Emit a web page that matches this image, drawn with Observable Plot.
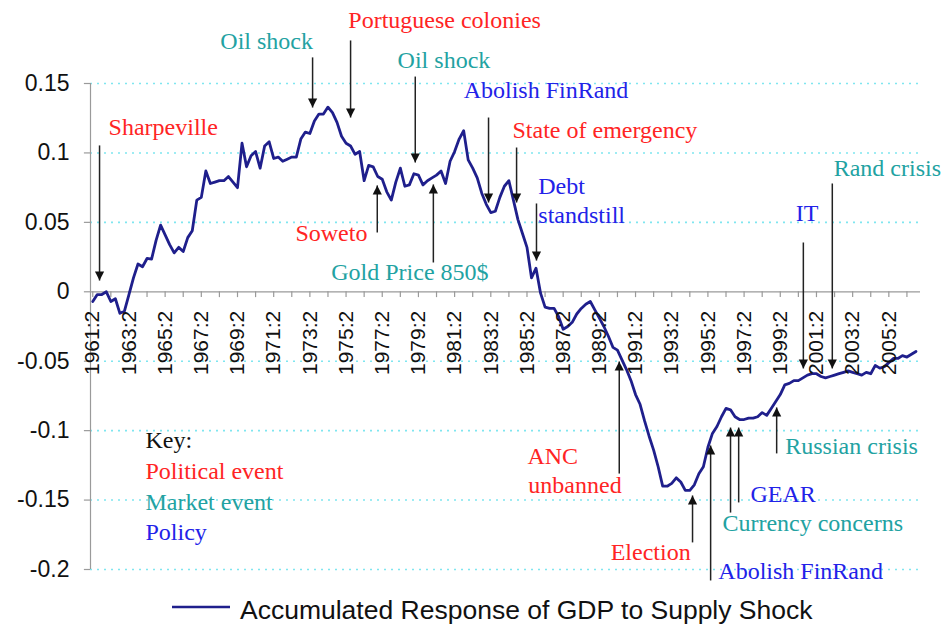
<!DOCTYPE html>
<html><head><meta charset="utf-8">
<script src="https://cdn.jsdelivr.net/npm/d3@7"></script>
<script src="https://cdn.jsdelivr.net/npm/@observablehq/plot@0.6"></script>
<style>
body{margin:0;background:#fff;}
#legend{position:relative;height:42px;width:942px;font-family:"Liberation Sans",Arial,sans-serif;font-size:26.5px;color:#111;}
#legend svg{position:absolute;left:172px;top:12px;}
#legend span{position:absolute;left:240px;top:5px;white-space:nowrap;}
</style></head><body><div id="chart"></div><div id="legend"></div>
<script>
// Quarterly series 1961:2 .. 2006:4
const seriesName = "Accumulated Response of GDP to Supply Shock";
const gdpResponse = [
 -0.007,-0.002,-0.002,0.000,-0.007,-0.005,-0.0155,-0.014,-0.002,0.010,
 0.020,0.018,0.024,0.0235,0.037,0.048,0.041,0.034,0.028,0.032,
 0.029,0.039,0.044,0.066,0.068,0.087,0.078,0.079,0.080,0.080,
 0.083,0.079,0.075,0.107,0.090,0.098,0.101,0.089,0.105,0.108,
 0.096,0.097,0.094,0.0955,0.097,0.097,0.110,0.115,0.114,0.123,
 0.128,0.128,0.133,0.129,0.122,0.112,0.107,0.105,0.099,0.101,
 0.080,0.091,0.090,0.083,0.081,0.072,0.066,0.079,0.089,0.076,
 0.077,0.085,0.084,0.077,0.080,0.082,0.084,0.087,0.078,0.094,
 0.101,0.110,0.116,0.095,0.089,0.082,0.071,0.063,0.057,0.058,
 0.068,0.076,0.080,0.066,0.052,0.042,0.032,0.010,0.017,-0.001,
 -0.011,-0.012,-0.012,-0.018,-0.027,-0.025,-0.022,-0.016,-0.012,-0.009,
 -0.007,-0.013,-0.019,-0.025,-0.032,-0.040,-0.042,-0.049,-0.056,-0.064,
 -0.074,-0.081,-0.093,-0.104,-0.114,-0.126,-0.140,-0.140,-0.138,-0.134,
 -0.137,-0.143,-0.143,-0.139,-0.131,-0.126,-0.112,-0.102,-0.097,-0.090,
 -0.084,-0.085,-0.090,-0.092,-0.092,-0.091,-0.091,-0.090,-0.087,-0.089,
 -0.084,-0.079,-0.074,-0.067,-0.066,-0.064,-0.064,-0.062,-0.060,-0.059,
 -0.059,-0.061,-0.062,-0.061,-0.060,-0.059,-0.058,-0.057,-0.058,-0.059,
 -0.060,-0.058,-0.059,-0.053,-0.055,-0.054,-0.051,-0.048,-0.048,-0.046,
 -0.047,-0.045,-0.043
];
const xTickLabels = ["1961:2","1963:2","1965:2","1967:2","1969:2","1971:2","1973:2","1975:2",
  "1977:2","1979:2","1981:2","1983:2","1985:2","1987:2","1989:2","1991:2","1993:2","1995:2",
  "1997:2","1999:2","2001:2","2003:2","2005:2"];
const yTicks = [0.15,0.1,0.05,0,-0.05,-0.1,-0.15,-0.2];
const yTickLabels = ["0.15","0.1","0.05","0","-0.05","-0.1","-0.15","-0.2"];

// Annotations: label, event type, quarter index, value
const annLabels = ["Sharpeville","Oil shock","Portuguese colonies","Oil shock","Abolish FinRand",
  "State of emergency","Debt","standstill","Soweto","Gold Price 850$","Rand crisis","IT",
  "ANC","unbanned","Election","Abolish FinRand","Currency concerns","GEAR","Russian crisis"];
const annTypes = ["Political","Market","Political","Market","Policy",
  "Political","Policy","Policy","Political","Market","Market","Policy",
  "Political","Political","Political","Policy","Market","Policy","Market"];
const annQuarter = [3.5,28.2,56.5,67.4,82.0,92.8,98.5,98.5,44.8,87.5,163.8,155.4,96.1,96.3,114.5,138.3,139.2,145.4,153.1];
const annValue = [0.1183,0.1803,0.1954,0.1666,0.145,0.1162,0.0758,0.0549,0.042,0.0139,0.089,0.0564,-0.1186,-0.1395,-0.1877,-0.2014,-0.1669,-0.146,-0.1114];
const annAlign = ["start","start","start","start","start","start","start","start","start","end","start","start","start","start","start","start","start","start","start"];

// Arrows: quarter index, tail value, tip value
const arrowQuarter = [1.5,48.6,57.0,71.3,87.5,93.7,98.1,62.9,75.3,157.1,163.5,116.4,132.6,136.6,141.0,142.8,151.2];
const arrowFrom = [0.1054,0.1688,0.181,0.155,0.1255,0.1039,0.0636,0.0427,0.0211,0.0355,0.078,-0.1309,-0.1805,-0.2079,-0.159,-0.1517,-0.1164];
const arrowTo = [0.0081,0.1327,0.1255,0.0931,0.0643,0.0643,0.0225,0.0766,0.0773,-0.0552,-0.0552,-0.0502,-0.1467,-0.1107,-0.0978,-0.0978,-0.0833];

const keyTitle = "Key:";
const keyLabels = ["Political event","Market event","Policy"];
const keyTypes = ["Political","Market","Policy"];

// ---- build ----
const typeColor = {Political:"#ff2424", Market:"#22a2a2", Policy:"#2222e8"};
const series = gdpResponse.map((v,i)=>({i, v}));
const anns = annLabels.map((t,k)=>({t, c: typeColor[annTypes[k]], x: annQuarter[k], y: annValue[k], a: annAlign[k]}));
const arrows = arrowQuarter.map((x,k)=>({x, y1: arrowFrom[k], y2: arrowTo[k]}));
const keyRows = [{t: keyTitle, c: "#111"}].concat(keyLabels.map((t,k)=>({t, c: typeColor[keyTypes[k]]})));
const keyValues = [-0.1071,-0.1294,-0.1517,-0.1733];

const headUp = {draw(ctx){ctx.moveTo(0,0);ctx.lineTo(-4.6,9);ctx.lineTo(4.6,9);ctx.closePath();}};
const headDown = {draw(ctx){ctx.moveTo(0,0);ctx.lineTo(-4.6,-9);ctx.lineTo(4.6,-9);ctx.closePath();}};

const serif = "Liberation Serif, Times New Roman, serif";
const sans = "Liberation Sans, Arial, sans-serif";

const chart = Plot.plot({
  width: 942, height: 590,
  marginLeft: 90, marginRight: 22, marginTop: 83, marginBottom: 21,
  x: {domain: [-0.5, 183], axis: null},
  y: {domain: [-0.2, 0.15], axis: null},
  style: {background: "white", overflow: "visible"},
  marks: [
    Plot.ruleY(yTicks.filter(d => d !== 0), {stroke: "#7fe6f0", strokeWidth: 1.6, strokeDasharray: "2,5"}),
    Plot.ruleX([-0.5], {y1: -0.2, y2: 0.15, stroke: "#9a9a9a", strokeWidth: 1.2}),
    Plot.ruleY(yTicks, {x1: -1.85, x2: -0.5, stroke: "#9a9a9a", strokeWidth: 1.2}),
    Plot.ruleY([0], {x1: -0.5, x2: 183, stroke: "#9a9a9a", strokeWidth: 1.2}),
    Plot.ruleX(d3.range(0, 183, 4), {y1: 0, y2: -0.0042, stroke: "#9a9a9a", strokeWidth: 1.2}),
    Plot.text(yTicks, {x: -0.5, y: d => d, text: (d,k) => yTickLabels[k], textAnchor: "end", dx: -21,
      fontSize: 23, fontFamily: sans, fill: "#111"}),
    Plot.line(series, {x: "i", y: "v", stroke: "#1f1f8c", strokeWidth: 2.8}),
    Plot.text(xTickLabels, {x: (d,k) => k*8, y: 0, text: d => d, rotate: -90, textAnchor: "end", dy: 19,
      fontSize: 21, fontFamily: sans, fill: "#111"}),
    Plot.link(arrows, {x1: "x", y1: "y1", x2: "x", y2: "y2", stroke: "#222", strokeWidth: 1.5}),
    Plot.dot(arrows.filter(d => d.y2 > d.y1), {x: "x", y: "y2", symbol: headUp, fill: "#111", stroke: null, r: 4}),
    Plot.dot(arrows.filter(d => d.y2 < d.y1), {x: "x", y: "y2", symbol: headDown, fill: "#111", stroke: null, r: 4}),
    Plot.text(anns.filter(d => d.a === "start"), {x: "x", y: "y", text: "t", fill: "c", textAnchor: "start",
      fontSize: 24, fontFamily: serif}),
    Plot.text(anns.filter(d => d.a === "end"), {x: "x", y: "y", text: "t", fill: "c", textAnchor: "end",
      fontSize: 24, fontFamily: serif}),
    Plot.text(keyRows, {x: 11.65, y: (d,k) => keyValues[k], text: "t", fill: "c", textAnchor: "start",
      fontSize: 24, fontFamily: serif})
  ]
});
document.getElementById("chart").appendChild(chart);
document.getElementById("legend").innerHTML =
  '<svg width="58" height="10"><line x1="0" y1="5" x2="58" y2="5" stroke="#1f1f8c" stroke-width="2.6"/></svg>' +
  '<span>' + seriesName + '</span>';
</script></body></html>
